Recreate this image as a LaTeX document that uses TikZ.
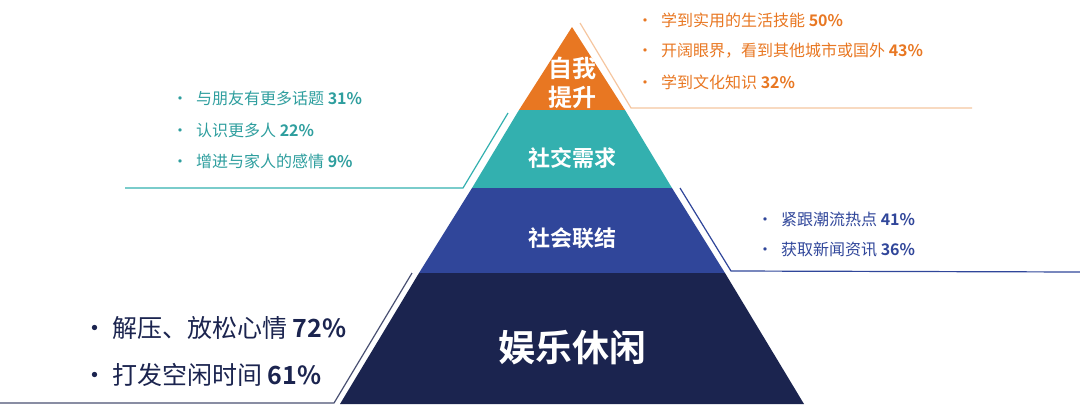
\documentclass[tikz,border=0pt]{standalone}
\usepackage{fontspec}
\setmainfont{Noto Sans CJK SC}[BoldFont={Noto Sans CJK SC Bold}]
\usetikzlibrary{positioning}
\definecolor{lorange}{HTML}{E87722}
\definecolor{lpeach}{HTML}{F5C6A0}
\definecolor{lteal}{HTML}{33B0AF}
\definecolor{lblue}{HTML}{30469A}
\definecolor{lnavy}{HTML}{1B244F}
\tikzset{
  layerlabel/.style={text=white,font=\bfseries,align=center,inner sep=0pt},
  item/.style={anchor=west,inner sep=0pt,font=\fontsize{16}{18}\selectfont},
  bigitem/.style={anchor=west,inner sep=0pt,font=\fontsize{25}{28}\selectfont},
  callout/.style={line width=1.2pt},
}
\begin{document}
\begin{tikzpicture}[x=1pt,y=-1pt]
\useasboundingbox (0,0) rectangle (1080,407);

% layers
\fill[lorange] (572,27) -- (625,110) -- (519,110) -- cycle;
\fill[lteal] (519,110) -- (625,110) -- (672,188) -- (472,188) -- cycle;
\fill[lblue] (472,188) -- (672,188) -- (725,273) -- (419,273) -- cycle;
\fill[lnavy] (419,273) -- (725,273) -- (804,404) -- (340,404) -- cycle;

\node[layerlabel,font=\fontsize{24}{29}\selectfont\bfseries] (self) at (572,83) {自我\\提升};
\node[layerlabel,font=\fontsize{22}{26}\selectfont\bfseries] (social) at (572,158) {社交需求};
\node[layerlabel,font=\fontsize{22}{26}\selectfont\bfseries] (connect) at (572,238) {社会联结};
\node[layerlabel,font=\fontsize{37}{40}\selectfont\bfseries] (leisure) at (572,348) {娱乐休闲};

% callout lines
\coordinate (o1) at (580,23); \coordinate (o2) at (631,108); \coordinate (o3) at (972,108);
\coordinate (t1) at (508,113); \coordinate (t2) at (463,188); \coordinate (t3) at (125,188);
\coordinate (b1) at (680,188); \coordinate (b2) at (731,271); \coordinate (b3) at (1080,272);
\coordinate (n1) at (412,273); \coordinate (n2) at (334,403); \coordinate (n3) at (0,403);
\draw[callout,lpeach] (o1) -- (o2) -- (o3);
\draw[callout,lteal] (t1) -- (t2) -- (t3);
\draw[callout,lblue] (b1) -- (b2) -- (b3);
\draw[callout,lnavy!80] (n1) -- (n2) -- (n3);

% items
\foreach \t/\p/\y [count=\i] in {学到实用的生活技能/50\%/20,开阔眼界，看到其他城市或国外/43\%/51,学到文化知识/32\%/82}
  \node[item,text=lorange] (self\i) at (637,\y) {\textbullet\hspace{8pt}\t\ \textbf{\p}};
\foreach \t/\p/\y [count=\i] in {与朋友有更多话题/31\%/98,认识更多人/22\%/130,增进与家人的感情/9\%/161}
  \node[item,text=lteal!90!black] (soc\i) at (172,\y) {\textbullet\hspace{8pt}\t\ \textbf{\p}};
\foreach \t/\p/\y [count=\i] in {紧跟潮流热点/41\%/219,获取新闻资讯/36\%/250}
  \node[item,text=lblue] (con\i) at (757,\y) {\textbullet\hspace{8pt}\t\ \textbf{\p}};
\foreach \t/\p/\y [count=\i] in {解压、放松心情/72\%/328,打发空闲时间/61\%/375}
  \node[bigitem,text=lnavy] (lei\i) at (82,\y) {\textbullet\hspace{5pt}\t\ \textbf{\p}};
\end{tikzpicture}
\end{document}
